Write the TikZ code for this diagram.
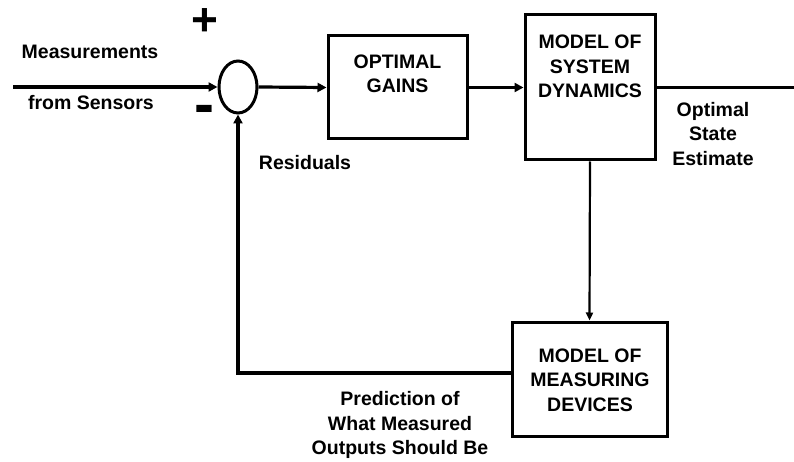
\documentclass[tikz,border=0pt]{standalone}
\usepackage{fontspec}
\setmainfont{Liberation Sans}
\usetikzlibrary{arrows.meta,shapes.geometric}
\begin{document}
\begin{tikzpicture}[x=1pt,y=-1pt,
  txt/.style={font=\bfseries\fontsize{19.5}{24.5}\selectfont, align=center, inner sep=0pt},
  blk/.style={draw, line width=3pt, inner sep=0pt},
  arr/.style={line width=3.2pt, -{Triangle[length=9pt,width=9pt]}},
  thinarr/.style={line width=2.2pt, -{Triangle[length=8pt,width=7pt]}},
  plain/.style={line width=3.2pt}]
\useasboundingbox (0,0) rectangle (794,462);
% blocks
\node[draw, ellipse, line width=3pt, inner sep=0pt, minimum width=38pt, minimum height=52pt] (sum) at (238,87) {};
\node[blk, minimum width=139pt, minimum height=103pt] (gains) at (397.5,87.5) {};
\node[blk, minimum width=130pt, minimum height=145pt] (model) at (590,87.5) {};
\node[blk, minimum width=155pt, minimum height=114pt] (meas) at (589.5,379) {};
% block texts
\node[txt] (tgains) at (397.5,74) {OPTIMAL\\GAINS};
\node[txt] (tmodel) at (590,66.5) {MODEL OF\\SYSTEM\\DYNAMICS};
\node[txt] (tmeas) at (590,380) {MODEL OF\\MEASURING\\DEVICES};
% coordinates
\coordinate (in) at (13,87);
\coordinate (out) at (794,87);
\coordinate (fb) at (236,373);
% connectors
\draw[arr] (in) -- (sum.west);
\draw[arr] (sum.east) -- (gains.west);
\draw[arr] (gains.east) -- (model.west);
\draw[plain] (model.east) -- (model.east -| out);
\draw[thinarr] (model.south) -- (meas.north);
\draw[arr] (meas.west |- fb) -| (sum.south);
% labels
\node[txt] (lmeas) at (90,52) {Measurements};
\node[txt] (lsens) at (91,103) {from Sensors};
\node[txt] (lres) at (305,163) {Residuals};
\node[txt] (lopt) at (713,134) {Optimal\\State\\Estimate};
\node[txt] (lpred) at (400,425) {Prediction of\\What Measured\\Outputs Should Be};
\node[font=\bfseries\fontsize{46}{46}\selectfont, inner sep=0pt] (plus) at (205,22) {+};
\node[font=\bfseries\fontsize{60}{60}\selectfont, inner sep=0pt, anchor=base] (minus) at (204,125) {-};
\end{tikzpicture}
\end{document}
